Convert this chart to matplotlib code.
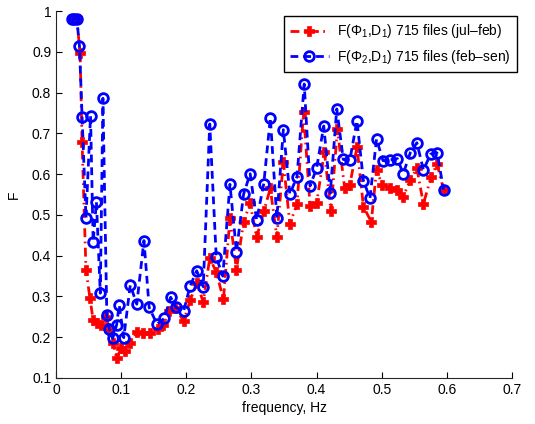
import matplotlib
matplotlib.use("Agg")
import matplotlib.pyplot as plt

plt.rcParams['font.family'] = ['Liberation Sans', 'DejaVu Sans']
plt.rcParams['mathtext.fontset'] = 'custom'
plt.rcParams['mathtext.rm'] = 'Liberation Sans'
plt.rcParams['mathtext.it'] = 'Liberation Sans'

# Series 1 (red): F(Phi1,D1) jul-feb
x_red = [0.025, 0.028, 0.032, 0.037, 0.040, 0.046, 0.052, 0.057, 0.063, 0.069,
         0.076, 0.082, 0.088, 0.093, 0.100, 0.106, 0.114, 0.125, 0.134, 0.144,
         0.156, 0.165, 0.174, 0.183, 0.196, 0.206, 0.216, 0.226, 0.236, 0.246,
         0.257, 0.267, 0.277, 0.288, 0.298, 0.308, 0.319, 0.329, 0.339, 0.349,
         0.359, 0.370, 0.380, 0.390, 0.400, 0.412, 0.422, 0.432, 0.443, 0.451,
         0.462, 0.472, 0.484, 0.492, 0.501, 0.513, 0.524, 0.533, 0.544, 0.554,
         0.564, 0.576, 0.585, 0.595]
y_red = [0.980, 0.980, 0.980, 0.896, 0.679, 0.365, 0.297, 0.242, 0.236, 0.230,
         0.250, 0.218, 0.185, 0.148, 0.173, 0.165, 0.187, 0.214, 0.210, 0.210,
         0.219, 0.230, 0.265, 0.271, 0.240, 0.291, 0.332, 0.287, 0.394, 0.360,
         0.293, 0.492, 0.366, 0.483, 0.528, 0.445, 0.509, 0.565, 0.445, 0.630,
         0.478, 0.527, 0.753, 0.522, 0.528, 0.655, 0.509, 0.710, 0.567, 0.573,
         0.667, 0.520, 0.483, 0.610, 0.573, 0.567, 0.562, 0.545, 0.586, 0.614,
         0.527, 0.594, 0.625, 0.561]

# Series 2 (blue): F(Phi2,D1) feb-sen
x_blue = [0.025, 0.028, 0.032, 0.036, 0.040, 0.046, 0.053, 0.057, 0.062, 0.068,
          0.072, 0.078, 0.082, 0.087, 0.093, 0.097, 0.104, 0.114, 0.124, 0.135,
          0.143, 0.155, 0.166, 0.176, 0.184, 0.196, 0.206, 0.216, 0.226, 0.236,
          0.246, 0.256, 0.267, 0.277, 0.288, 0.298, 0.308, 0.319, 0.329, 0.339,
          0.349, 0.359, 0.370, 0.381, 0.390, 0.400, 0.411, 0.421, 0.431, 0.441,
          0.451, 0.462, 0.472, 0.482, 0.492, 0.502, 0.513, 0.524, 0.533, 0.544,
          0.554, 0.564, 0.575, 0.585, 0.595]
y_blue = [0.980, 0.980, 0.980, 0.914, 0.741, 0.492, 0.743, 0.434, 0.532, 0.308,
          0.786, 0.254, 0.219, 0.197, 0.230, 0.279, 0.199, 0.328, 0.281, 0.437,
          0.273, 0.232, 0.246, 0.298, 0.273, 0.265, 0.326, 0.363, 0.324, 0.723,
          0.396, 0.350, 0.575, 0.410, 0.551, 0.601, 0.487, 0.577, 0.738, 0.492,
          0.709, 0.551, 0.594, 0.821, 0.571, 0.614, 0.718, 0.553, 0.760, 0.636,
          0.634, 0.731, 0.583, 0.541, 0.686, 0.633, 0.635, 0.638, 0.601, 0.653,
          0.677, 0.610, 0.649, 0.652, 0.562]

label_red = r"F($\Phi_1$,D$_1$) 715 files (jul–feb)"
label_blue = r"F($\Phi_2$,D$_1$) 715 files (feb–sen)"

x_ticks = [0, 0.1, 0.2, 0.3, 0.4, 0.5, 0.6, 0.7]
x_ticklabels = ["0", "0.1", "0.2", "0.3", "0.4", "0.5", "0.6", "0.7"]
y_ticks = [0.1, 0.2, 0.3, 0.4, 0.5, 0.6, 0.7, 0.8, 0.9, 1.0]
y_ticklabels = ["0.1", "0.2", "0.3", "0.4", "0.5", "0.6", "0.7", "0.8", "0.9", "1"]

fig = plt.figure(figsize=(5.35, 4.24), dpi=100)
ax = fig.add_axes([0.1047, 0.1085, 0.8523, 0.8655])

ax.plot(x_red, y_red, color='red', linestyle=(0, (3.2, 1.6, 0.6, 1.6)), linewidth=2,
        marker='P', markersize=6.5, markeredgewidth=0.5, label=label_red)
ax.plot(x_blue, y_blue, color='blue', linestyle=(0, (2.8, 1.8)), linewidth=2,
        marker='o', markersize=7, markeredgewidth=2, markerfacecolor='none',
        label=label_blue)

ax.set_xlim(0, 0.7)
ax.set_ylim(0.1, 1.0)
ax.set_xticks(x_ticks)
ax.set_xticklabels(x_ticklabels)
ax.set_yticks(y_ticks)
ax.set_yticklabels(y_ticklabels)
ax.tick_params(direction='in', length=4, width=0.8, labelsize=10, colors='black')
ax.spines['top'].set_visible(False)
ax.spines['right'].set_visible(False)
for s in ('left', 'bottom'):
    ax.spines[s].set_linewidth(0.8)
    ax.spines[s].set_color('#262626')

ax.set_xlabel("frequency, Hz", fontsize=10, labelpad=3)
ax.set_ylabel("F", fontsize=10, labelpad=8)

leg = ax.legend(loc='upper right', bbox_to_anchor=(1.011, 0.986), fontsize=10,
                frameon=True, fancybox=False, framealpha=1, edgecolor='black',
                handlelength=2.8, borderpad=0.45, labelspacing=0.55, handletextpad=0.6,
                borderaxespad=0)
leg.get_frame().set_linewidth(1.0)

fig.savefig("out.png", dpi=100)
